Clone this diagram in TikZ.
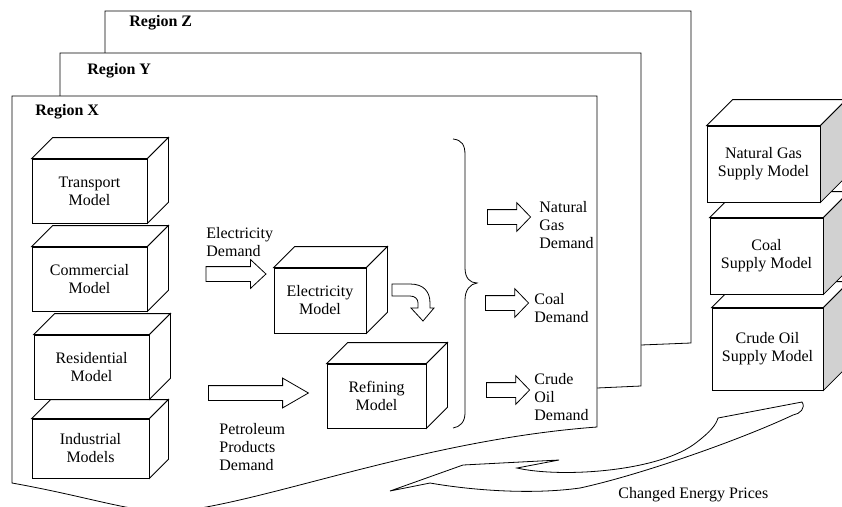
\documentclass[tikz,border=0pt]{standalone}
\usepackage{fontspec}
\setmainfont{Liberation Serif}
\usetikzlibrary{shapes.arrows}

\tikzset{
  region/.style={draw, fill=white},
  regiontext/.style={inner sep=0pt, anchor=west, font=\fontsize{16}{18}\selectfont\bfseries},
  model/.style={draw, fill=white, inner sep=0pt, align=center, font=\fontsize{16}{18}\selectfont},
  flowtext/.style={inner sep=0pt, anchor=west, align=left, font=\fontsize{16}{18}\selectfont},
  demandarrow/.style={draw, fill=white, single arrow, inner xsep=0pt, inner ysep=7pt, minimum width=0pt, single arrow head extend=7pt},
  flowarrow/.style={draw, fill=white}
}
\colorlet{sideface}{black!18}

% top and side faces of a model box
\newcommand{\boxfaces}[3][white]{%
  \filldraw[fill=white] (#2.north west) -- ++(#3,-#3) -- ([shift={(#3,-#3)}]#2.north east) -- (#2.north east) -- cycle;
  \filldraw[fill=#1] (#2.north east) -- ([shift={(#3,-#3)}]#2.north east) -- ([shift={(#3,-#3)}]#2.south east) -- (#2.south east) -- cycle;}

\begin{document}
\begin{tikzpicture}[x=1pt, y=-1pt, line width=0.8pt]
  \useasboundingbox (0,0) rectangle (842,506);
  \clip (0,0) rectangle (842,506);
  % regions
  \draw[region] (105,11) -- (691,11) -- (691,343) -- (641,345) -- (105,360) -- cycle;
  \node[regiontext] (regionz) at (129,23) {Region Z};
  \draw[region] (60,53) -- (641,53) -- (641,386) -- (597,388) -- (60,400) -- cycle;
  \node[regiontext] (regiony) at (87,71) {Region Y};
  \draw[region] (12,96) -- (597,96) -- (597,427)
    .. controls (420,440) and (260,505) .. (170,512)
    .. controls (130,512) and (90,497) .. (12,483) -- cycle;
  \node[regiontext] (regionx) at (35,112) {Region X};
  % demand models
  \node[model, minimum width=117pt, minimum height=59pt] (industrial) at (90.5,448.5) {Industrial\\Models};
  \boxfaces{industrial}{19}
  \node[model, minimum width=115pt, minimum height=64pt] (residential) at (91.5,367) {Residential\\Model};
  \boxfaces{residential}{21}
  \node[model, minimum width=115pt, minimum height=64pt] (commercial) at (89.5,279) {Commercial\\Model};
  \boxfaces{commercial}{21}
  \node[model, minimum width=115pt, minimum height=64pt] (transport) at (89.5,191) {Transport\\Model};
  \boxfaces{transport}{21}
  % conversion models
  \node[model, minimum width=92pt, minimum height=65pt] (electricity) at (320,300.5) {Electricity\\Model};
  \boxfaces{electricity}{21}
  \node[model, minimum width=99pt, minimum height=64pt] (refining) at (376.5,396) {Refining\\Model};
  \boxfaces{refining}{21}
  % supply models
  \node[model, minimum width=111pt, minimum height=82pt] (crudesupply) at (767.5,349) {Crude Oil\\Supply Model};
  \boxfaces[sideface]{crudesupply}{26}
  \node[model, minimum width=113pt, minimum height=76pt] (coalsupply) at (766.5,256) {Coal\\Supply Model};
  \boxfaces[sideface]{coalsupply}{26}
  \node[model, minimum width=113pt, minimum height=76pt] (gassupply) at (763.5,164) {Natural Gas\\Supply Model};
  \boxfaces[sideface]{gassupply}{26}
  % flows
  \node[flowtext] (elecdemand) at (206,242.5) {Electricity\\Demand};
  \node[demandarrow, minimum height=60pt, single arrow tip angle=86] (elecarrow) at (232,274) {};
  \node[flowtext] (petrodemand) at (219,447.5) {Petroleum\\Products\\Demand};
  \node[demandarrow, single arrow head extend=7.5pt, minimum height=100pt, single arrow tip angle=60] (petroarrow) at (252,393) {};
  \draw[flowarrow] (392,284) -- (410,284) .. controls (424,284) and (430,292) .. (430,303)
    -- (430,308) -- (434,308) -- (423,321) -- (411,308) -- (418,308) -- (418,303)
    .. controls (418,299) and (415,296) .. (410,296) -- (392,296) -- cycle;
  % brace
  \draw (453,139) .. controls (462,140) and (465,145) .. (465,155) -- (465,268)
    .. controls (465,278) and (470,283) .. (477,283)
    .. controls (470,284) and (465,290) .. (465,300) -- (465,413)
    .. controls (465,422) and (460,427) .. (453,428);
  % fuel demands
  \begin{scope}[every node/.append style={single arrow head extend=5.5pt, minimum height=43pt, single arrow tip angle=92}]
    \node[demandarrow] (gasarrow) at (505.5,217) {};
    \node[demandarrow] (coalarrow) at (503.5,303) {};
    \node[demandarrow] (crudearrow) at (504.5,390) {};
  \end{scope}
  \node[flowtext] (gasdemand) at (539,225.5) {Natural\\Gas\\Demand};
  \node[flowtext] (coaldemand) at (534,308.5) {Coal\\Demand};
  \node[flowtext] (crudedemand) at (534,397) {Crude\\Oil\\Demand};
  % price feedback
  \draw[flowarrow] (390,491) -- (463,465) -- (559,460) -- (517,468)
    .. controls (560,478) and (660,472) .. (697,442)
    .. controls (710,432) and (716,425) .. (718,418) -- (802,402)
    .. controls (806,408) and (800,414) .. (793,415)
    .. controls (740,440) and (640,475) .. (580,488)
    .. controls (530,495) and (470,490) .. (430,483) -- cycle;
  \node[flowtext] (prices) at (618,495) {Changed Energy Prices};
\end{tikzpicture}
\end{document}
